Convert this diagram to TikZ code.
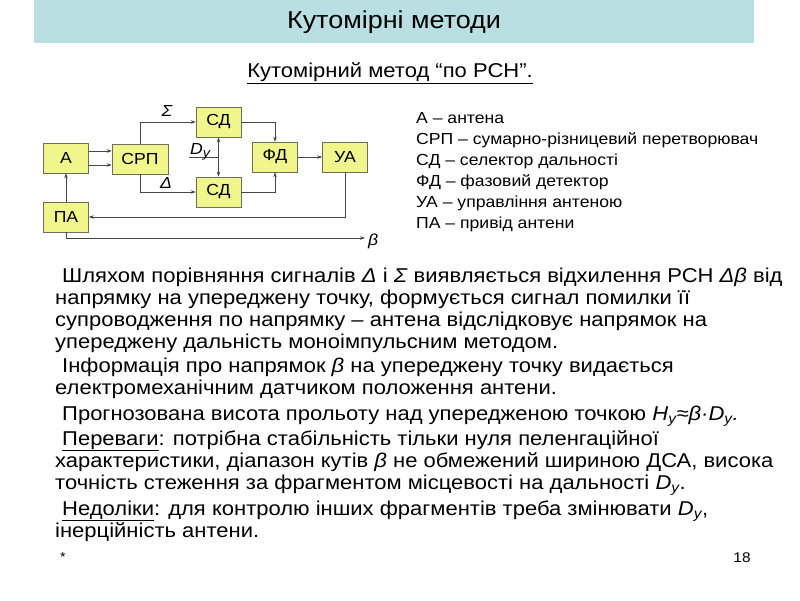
\documentclass[tikz,border=0pt]{standalone}
\usepackage{fontspec}
\setmainfont{Liberation Sans}[FakeStretch=1.1]
\usetikzlibrary{arrows.meta}
\definecolor{boxfill}{RGB}{240,245,140}
\definecolor{boxline}{RGB}{110,110,90}
\definecolor{titlebg}{RGB}{185,223,226}
\definecolor{wire}{RGB}{70,70,70}
\tikzset{
  blk/.style={draw=boxline,fill=boxfill,line width=0.6pt,minimum width=45pt,minimum height=30pt,inner sep=0pt,font=\fontsize{16}{18}\selectfont},
  wirearrow/.style={draw=wire,line width=0.6pt,-{Stealth[length=5pt,width=3.5pt]}},
  plainwire/.style={draw=wire,line width=0.6pt},
  body/.style={anchor=base west,inner sep=0pt,font=\fontsize{20}{22}\selectfont},
  legend/.style={anchor=base west,inner sep=0pt,font=\fontsize{16}{18}\selectfont},
  lbl/.style={inner sep=0pt,font=\fontsize{16}{18}\selectfont\itshape}
}
\begin{document}
\begin{tikzpicture}[x=1pt,y=-1pt]
\useasboundingbox (0,0) rectangle (800,600);
\fill[white] (0,0) rectangle (800,600);
% title
\node[fill=titlebg,minimum width=720pt,minimum height=43pt,inner sep=0pt,anchor=north west] (titlebar) at (34,0) {};
\node[inner sep=0pt,font=\fontsize{24.5}{28}\selectfont] (title) at (394,22) {Кутомірні методи};
\node[inner sep=0pt,font=\fontsize{20}{22}\selectfont] (sub) at (390,73) {\underline{Кутомірний метод “по РСН”.}};
% blocks
\node[blk] (A) at (66,158) {А};
\node[blk,minimum width=56pt] (SRP) at (140,159) {СРП};
\node[blk] (PA) at (66,217) {ПА};
\node[blk] (SD1) at (218.5,122) {СД};
\node[blk] (SD2) at (218.5,192) {СД};
\node[blk] (FD) at (275,157) {ФД};
\node[blk] (UA) at (345,157) {УА};
% A -> SRP
\draw[wirearrow] ([yshift=-7pt]A.east) -- ([yshift=-7pt]A.east -| SRP.west);
\draw[wirearrow] ([yshift=7pt]A.east) -- ([yshift=7pt]A.east -| SRP.west);
% SRP -> SD
\draw[wirearrow] (SRP.north) |- (SD1.west);
\draw[wirearrow] (SRP.south) |- (SD2.west);
\node[lbl] (sigma) at (167,111) {Σ};
\node[lbl] (delta) at (166,183) {Δ};
% Dy
\coordinate (dyin) at (189,157);
\coordinate (dyj) at (SD1.south |- dyin);
\draw[plainwire] (dyin) -- (dyj);
\draw[wirearrow] (dyj) -- (SD1.south);
\draw[wirearrow] (dyj) -- (SD2.north);
\node[lbl,anchor=base west] (dy) at (190,154) {D\raisebox{-3pt}{\fontsize{13}{15}\selectfont у}};
% SD -> FD
\draw[wirearrow] (SD1.east) -| (FD.north);
\draw[wirearrow] (SD2.east) -| (FD.south);
\draw[wirearrow] (FD.east) -- (UA.west);
% UA -> PA
\draw[wirearrow] (UA.south) |- (PA.east);
% PA -> A
\draw[wirearrow] (PA.north) -- (A.south);
% PA -> beta
\coordinate (bend) at (365,238);
\draw[wirearrow] (PA.south) |- (bend);
\node[lbl,anchor=west] (beta) at (368,241) {β};
% legend
\node[legend] (l1) at (416,123) {А – антена};
\node[legend] (l2) at (416,144) {СРП – сумарно-різницевий перетворювач};
\node[legend] (l3) at (416,165) {СД – селектор дальності};
\node[legend] (l4) at (416,186) {ФД – фазовий детектор};
\node[legend] (l5) at (416,207) {УА – управління антеною};
\node[legend] (l6) at (416,228) {ПА – привід антени};
% body
\node[body] (b1) at (62,282) {Шляхом порівняння сигналів \textit{Δ} і \textit{Σ} виявляється відхилення РСН \textit{Δβ} від};
\node[body] (b2) at (55,304) {напрямку на упереджену точку, формується сигнал помилки її};
\node[body] (b3) at (55,326) {супроводження по напрямку – антена відслідковує напрямок на};
\node[body] (b4) at (55,348) {упереджену дальність моноімпульсним методом.};
\node[body] (b5) at (62,372) {Інформація про напрямок \textit{β} на упереджену точку видається};
\node[body] (b6) at (55,394) {електромеханічним датчиком положення антени.};
\node[body] (b7) at (62,420) {Прогнозована висота прольоту над упередженою точкою \textit{H\textsubscript{у}≈β·D\textsubscript{у}.}};
\node[body] (b8) at (62,445) {\underline{Переваги}: потрібна стабільність тільки нуля пеленгаційної};
\node[body] (b9) at (55,467) {характеристики, діапазон кутів \textit{β} не обмежений шириною ДСА, висока};
\node[body] (b10) at (55,489) {точність стеження за фрагментом місцевості на дальності \textit{D\textsubscript{у}}.};
\node[body] (b11) at (62,515) {\underline{Недоліки}: для контролю інших фрагментів треба змінювати \textit{D\textsubscript{у}},};
\node[body] (b12) at (55,537) {інерційність антени.};
% footer
\node[inner sep=0pt,font=\fontsize{13}{15}\selectfont] (star) at (63,557) {*};
\node[inner sep=0pt,font=\fontsize{14}{16}\selectfont] (pg) at (742,558) {18};
\end{tikzpicture}
\end{document}
